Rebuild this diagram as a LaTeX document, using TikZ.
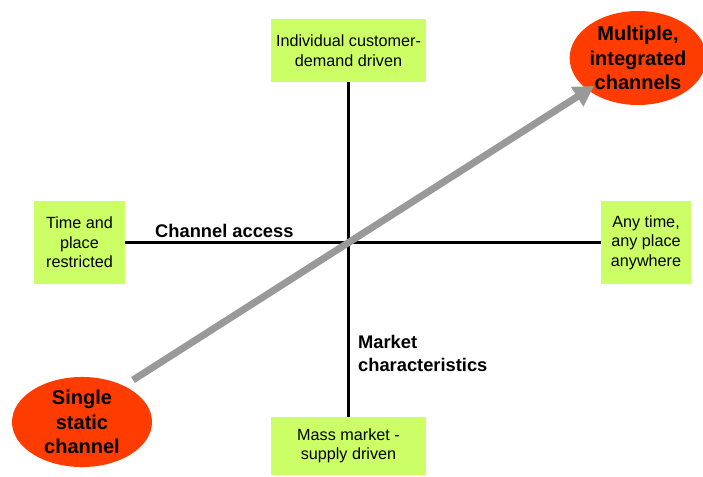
\documentclass[tikz,border=0pt]{standalone}
\usepackage{fontspec}
\setmainfont{Liberation Sans}
\usetikzlibrary{arrows.meta,shapes.geometric}
\definecolor{boxgreen}{RGB}{204,255,102}
\definecolor{ovalred}{RGB}{255,60,0}
\definecolor{arrowgray}{RGB}{153,153,153}
\tikzset{
    axisbox/.style={fill=boxgreen, align=center, inner sep=0pt,
        font=\fontsize{16.2}{19.5}\selectfont},
    oval/.style={ellipse, fill=ovalred, align=center, inner sep=0pt,
        font=\bfseries\fontsize{20}{24.5}\selectfont},
    axislabel/.style={font=\bfseries\fontsize{18.3}{23}\selectfont, align=left, inner sep=0pt}
}
\begin{document}
\begin{tikzpicture}[x=1pt,y=-1pt]
        \useasboundingbox (0,0) rectangle (703,476);

        \node[axisbox, minimum width=155pt, minimum height=63pt] (demand) at (348.5,50.5) {Individual customer-\\demand driven};
        \node[axisbox, minimum width=155pt, minimum height=58pt] (supply) at (348.5,446) {Mass market -\\supply driven};
        \node[axisbox, minimum width=91pt, minimum height=83pt] (restricted) at (79.5,242.5) {Time and\\place\\restricted};
        \node[axisbox, minimum width=90pt, minimum height=83pt] (anytime) at (646,242.5) {Any time,\\any place\\anywhere};

        \draw[line width=2.5pt] (demand.south) -- (supply.north);
        \draw[line width=2.5pt] (restricted.east) -- (anytime.west);

        \node[axislabel, anchor=west] (access) at (155,231) {Channel access};
        \node[axislabel, anchor=north west] (market) at (358,335) {Market\\characteristics};

        \node[oval, minimum width=132pt, minimum height=94pt] (multiple) at (638,58) {Multiple,\\integrated\\channels};
        \node[oval, minimum width=140pt, minimum height=88pt] (single) at (82,422) {Single\\static\\channel};

        \coordinate (start) at (133,380);
        \coordinate (tip) at (594,86);
        \draw[arrowgray, line width=7pt, -{Triangle[length=20pt, width=22pt]}] (start) -- (tip);
    \end{tikzpicture}
\end{document}
